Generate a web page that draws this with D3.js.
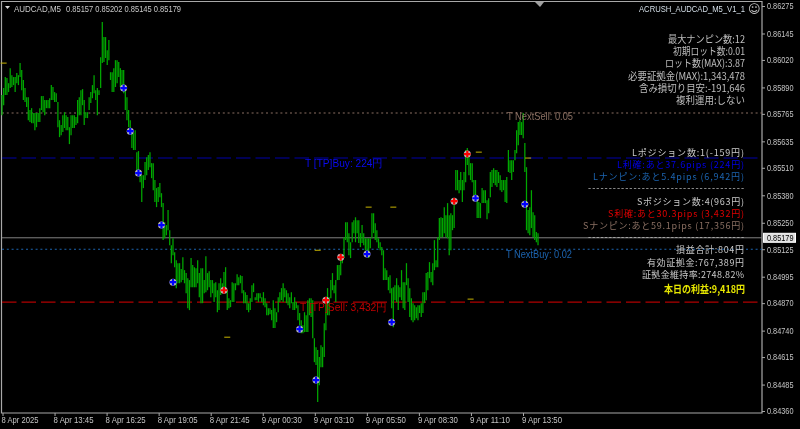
<!DOCTYPE html>
<html><head><meta charset="utf-8">
<script src="https://cdn.jsdelivr.net/npm/d3@7"></script>
<style>html,body{margin:0;padding:0;background:#000;overflow:hidden}svg{display:block;filter:blur(.25px)}</style>
</head><body><svg id="c" width="800" height="429"></svg>
<script>
// ---- data: price in points (0.00001)
const barRanges=[
[85854,85759],[85887,85806],[85939,85854],[85934,85854],[85910,85868],[85981,85887],[85948,85892],[85939,85901],[85939,85868],[85958,85910],[85948,85901],[86005,85939],[85972,85877],[85925,85830],[85887,85821],[85844,85797],[85844,85735],[85783,85726],[85792,85721],[85769,85721],[85769,85688],[85769,85702],[85769,85726],[85792,85726],[85849,85783],[85849,85773],[85830,85759],[85830,85792],[85830,85792],[85839,85792],[85901,85830],[85892,85830],[85868,85821],[85863,85821],[85821,85702],[85735,85655],[85712,85664],[85759,85679],[85773,85698],[85759,85688],[85750,85688],[85702,85622],[85759,85664],[85759,85698],[85759,85698],[85750,85712],[85830,85721],[85844,85759],[85877,85759],[85882,85806],[85830,85712],[85773,85745],[85773,85745],[85844,85783],[85868,85816],[85901,85839],[85948,85863],[85877,85830],[85887,85759],[85877,85854],[86033,85887],[86199,86005],[86128,86010],[86128,86029],[86066,85996],[86114,86019],[85962,85925],[85962,85868],[85981,85868],[86019,85892],[86019,85910],[86010,85939],[85981,85892],[85972,85877],[85972,85863],[85877,85783],[85844,85735],[85783,85702],[85735,85674],[85679,85603],[85674,85594],[85688,85594],
[85584,85499],[85589,85499],[85499,85442],[85475,85348],[85475,85414],[85537,85452],[85560,85475],[85570,85499],[85584,85513],[85532,85461],[85532,85404],[85452,85348],[85414,85324],[85419,85348],[85438,85371],[85390,85324],[85343,85168],[85253,85177],[85239,85191],[85310,85215],[85215,85144],[85144,85059],[85177,85097],[85111,85040],[85073,84941],[85059,84964],[85059,84964],[85031,84969],[85087,84979],[85026,84964],[85012,84917],[84988,84846],[84979,84837],[85083,84945],[85050,84945],[85040,84945],[85035,84945],[85073,84964],[85012,84898],[85035,84870],[85035,84870],[84979,84917],[85092,84922],[85012,84931],[85021,84945],[84979,84898],[84979,84917],[84964,84875],[84969,84898],[84931,84827],[84964,84837],[84988,84908],[84964,84917],[85017,84922],[85040,84931],[84931,84837],[84893,84846],[84884,84851],[84969,84875],[84964,84875],[84964,84931],[85007,84955],[84993,84955],[85002,84964],[84998,84917],[84931,84870],[84922,84870],[84908,84837],[84870,84827],[84893,84837],[84955,84875],[84964,84922],[84898,84884],[84917,84884],[84917,84875],[84917,84893],[84898,84875],[84922,84860],[84893,84851],[84870,84813],[84846,84813],[84846,84818],
[84837,84789],[84884,84752],[84846,84752],[84827,84780],[84898,84827],[84922,84875],[84941,84884],[84964,84875],[84941,84898],[84931,84870],[84917,84860],[84898,84846],[84922,84870],[84875,84837],[84898,84837],[84875,84846],[84860,84789],[84823,84766],[84789,84728],[84766,84728],[84827,84733],[84813,84733],[84884,84733],[84893,84813],[84893,84804],[84884,84704],[84704,84591],[84662,84577],[84648,84402],[84615,84482],[84671,84567],[84662,84567],[84775,84615],[84884,84742],[84941,84813],[84898,84813],[84979,84893],[85012,84931],[84955,84917],[84979,84875],[85050,84979],[85050,84979],[85087,85002],[85097,85059],[85182,85083],[85253,85168],[85253,85158],[85201,85097],[85158,85083],[85253,85158],[85262,85201],[85276,85158],[85262,85201],[85262,85154],[85201,85135],[85239,85154],[85201,85144],[85177,85120],[85177,85111],[85177,85083],[85177,85130],[85295,85177],[85295,85201],[85248,85168],[85215,85158],[85177,85130],[85158,85120],[85135,85097],[85120,84979],[85035,84979],[85026,84979],[84993,84931],[85002,84917],[84941,84846],[84945,84756],[84955,84884],[84988,84875],[84955,84837],[84945,84898],
[85026,84884],[84969,84846],[84969,84837],[85059,84955],[84988,84875],[84941,84804],[84893,84789],[84870,84780],[84860,84789],[84851,84799],[84860,84789],[84860,84823],[84870,84804],[84922,84823],[84922,84870],[85012,84884],[85017,84931],[85064,84988],[85017,84969],[85059,84955],[85168,85026],[85073,85040],[85182,85040],[85272,85168],[85276,85182],[85272,85182],[85324,85201],[85286,85182],[85343,85177],[85286,85097],[85295,85120],[85286,85215],[85343,85225],[85499,85404],[85499,85404],[85452,85390],[85490,85404],[85452,85348],[85490,85404],[85594,85442],[85603,85523],[85570,85475],[85532,85452],[85532,85442],[85452,85381],[85452,85381],[85357,85272],[85348,85272],[85343,85272],[85414,85343],[85404,85343],[85404,85343],[85357,85267],[85366,85295],[85490,85371],[85499,85419],[85508,85438],[85499,85428],[85499,85419],[85490,85438],[85475,85404],[85452,85395],[85452,85404],[85452,85348],[85466,85343],[85594,85490],[85546,85485],[85546,85452],[85546,85490],[85594,85546],[85688,85579],[85726,85617],[85735,85665],[85726,85665],[85769,85650],[85627,85490],[85513,85215],[85310,85201],[85324,85191],[85404,85225],[85300,85182],[85286,85168],[85206,85158],[85201,85144]];
const priceTicks=[86275,86145,86020,85890,85765,85635,85510,85380,85250,85125,84995,84870,84740,84615,84485,84360];
const timeLabels=["8 Apr 2025","8 Apr 13:45","8 Apr 16:25","8 Apr 19:05","8 Apr 21:45","9 Apr 00:30","9 Apr 03:10","9 Apr 05:50","9 Apr 08:30","9 Apr 11:10","9 Apr 13:50"];
const buyMarks=[[74,85887],[78,85683],[83,85485],[97,85239],[104,84969],[181,84747],[191,84506],[222,85102],[237,84780],[288,85366],[318,85338]];
const sellMarks=[[135,84931],[206,85087],[197,84884],[275,85352],[283,85575]];
const orderDashes=[[1,86005],[223,85324],[238,85324],[290,85584],[320,85556],[137,84709],[192,85120],[285,84889]];
const currentPrice=85179;
const levelPrices={nextSell:85769,tpBuy:85556,nextBuy:85125,tpSell:84875};
const chartTitle="AUDCAD,M5";
const ohlcText="0.85157 0.85202 0.85145 0.85179";
const eaName="ACRUSH_AUDCAD_M5_V1_1";
const levelTexts=["T NextSell: 0.05","T [TP]Buy: 224円","T NextBuy: 0.02","T [TP]Sell: 3,432円"];
const settingsLines=["最大ナンピン数:12","初期ロット数:0.01","ロット数(MAX):3.87","必要証拠金(MAX):1,343,478","含み損切り目安:-191,646","複利運用:しない"];
const positionLines=["Lポジション数:1(-159円)","L利確:あと37.6pips (224円)","Lナンピン:あと5.4pips (6,942円)","--------------------------------------","Sポジション数:4(963円)","S利確:あと30.3pips (3,432円)","Sナンピン:あと59.1pips (17,356円)","--------------------------------------","損益合計:804円","有効証拠金:767,389円","証拠金維持率:2748.82%"];
const profitLine="本日の利益:9,418円";

// ---- layout
const L=2,R=762,T=1.5,B=413;
const svg=d3.select("#c");
const y=d3.scaleLinear().domain([84360,86275]).range([411,6]);
const x=d3.scalePoint().domain(d3.range(barRanges.length)).range([2,538]);
const xt=d3.scalePoint().domain(timeLabels).range([2.5,523]);
const sans="'Liberation Sans',Arial,sans-serif", cjk="'Noto Sans CJK JP',sans-serif";

// frame
svg.append("path").attr("d",`M${L-.5},${T}H${R}V${B}H${L-.5}Z`).attr("fill","none").attr("stroke","#a8a8a8").attr("stroke-width",1.2);
svg.append("path").attr("d","M535,2H544L540,7Z").attr("fill","#a0a0a0");

// level lines
function level(p,col,dash,w){svg.append("line").attr("x1",L).attr("x2",R).attr("y1",y(p)).attr("y2",y(p)).attr("stroke",col).attr("stroke-width",w||1.1).attr("stroke-dasharray",dash);}
level(levelPrices.nextSell,"#8a6f62","2 2.8");
level(levelPrices.tpBuy,"#0000a8","14.5 5");
level(currentPrice,"#808080",null,1);
level(levelPrices.nextBuy,"#1c64b0","2 2.8");
level(levelPrices.tpSell,"#b00000","14.5 5");

// bars
svg.append("g").selectAll("line").data(barRanges).join("line")
 .attr("x1",(d,i)=>x(i)).attr("x2",(d,i)=>x(i))
 .attr("y1",d=>y(d[0])).attr("y2",d=>y(d[1]))
 .attr("stroke","#00a800").attr("stroke-width",1.25);

// order dashes
svg.append("g").selectAll("line").data(orderDashes).join("line")
 .attr("x1",d=>x(d[0])-3).attr("x2",d=>x(d[0])+3)
 .attr("y1",d=>y(d[1])).attr("y2",d=>y(d[1]))
 .attr("stroke","#c8b400").attr("stroke-width",1);

// markers
function marks(data,col){
 const g=svg.append("g").selectAll("g").data(data).join("g").attr("transform",d=>`translate(${x(d[0])},${y(d[1])})`);
 g.append("circle").attr("r",3.5).attr("fill","#b8b8b8");
 g.append("path").attr("d",d3.symbol(d3.symbolCross,24)).attr("fill",col);
}
marks(buyMarks,"#0000ff");
marks(sellMarks,"#ff0000");

// axes
const ay=d3.axisRight(y).tickValues(priceTicks).tickSize(3).tickPadding(2).tickFormat(d=>(d/100000).toFixed(5));
const gy=svg.append("g").attr("transform",`translate(${R},0)`).call(ay);
const ax=d3.axisBottom(xt).tickSize(3).tickPadding(1);
const gx=svg.append("g").attr("transform",`translate(0,${B})`).call(ax);
[gy,gx].forEach(g=>{g.select(".domain").remove();g.selectAll("line").attr("stroke","#a8a8a8");
 g.selectAll("text").attr("fill","#c4c4c4").style("font-family",sans).style("font-size","8.8px");});
gy.selectAll("text").attr("textLength",26.5).attr("lengthAdjust","spacingAndGlyphs");
gx.selectAll("text").attr("text-anchor","start").attr("dx",-1.5).attr("textLength",(d,i)=>i?40:37).attr("lengthAdjust","spacingAndGlyphs");

// current price box
svg.append("rect").attr("x",763.5).attr("y",y(currentPrice)-4.5).attr("width",32).attr("height",9).attr("fill","#e0e0e0").attr("stroke","#ffffff");
svg.append("text").attr("x",767).attr("y",y(currentPrice)+3).attr("fill","#000").style("font-family",sans).style("font-size","8.8px").attr("textLength",26.5).attr("lengthAdjust","spacingAndGlyphs").text((currentPrice/100000).toFixed(5));

// header
svg.append("path").attr("d","M5,6H10L7.5,9Z").attr("fill","#d8d8d8");
function txt(s,xp,yp,col,size,fam,len,adj,weight){
 const t=svg.append("text").attr("x",xp).attr("y",yp).attr("fill",col).style("font-family",fam).style("font-size",size+"px").text(s);
 if(len)t.attr("textLength",len).attr("lengthAdjust",adj||"spacingAndGlyphs");
 if(weight)t.style("font-weight",weight);
 return t;
}
txt(chartTitle,14,11.5,"#c8c8c8",9.4,sans,47);
txt(ohlcText,66,11.5,"#c8c8c8",9.4,sans,115);
txt(eaName,639,12,"#d4dfe8",9.2,sans,106);
txt("☺",748,13,"#c8c8c8",12,"'DejaVu Sans'");

// labels on levels
txt(levelTexts[0],507,120,"#8a6f62",10.6,sans,66);
txt(levelTexts[1],305,167,"#0a0af0",10.6,sans,78);
txt(levelTexts[2],506,258,"#1c64b0",10.6,sans,66);
txt(levelTexts[3],300,311,"#c00000",10.6,sans,87);

// info panels
const setX=[668,673,665,628,639,676], setY=[43,55,67,80,92,104];
settingsLines.forEach((s,i)=>txt(s,setX[i],setY[i],"#bdbdbd",10.4,cjk,745-setX[i]));
const posX=[632,617,593,588,637,608,583,588,676,647,642];
const posY=[155.5,167.5,179.5,191,204.5,216.5,228.5,240,252.5,265.5,277.5];
const posC=["#c8c8c8","#0000e8","#1c64b0","#c8c8c8","#c8c8c8","#e00000","#8a6f62","#c8c8c8","#c8c8c8","#c8c8c8","#c8c8c8"];
positionLines.forEach((s,i)=>txt(s,posX[i],posY[i],posC[i],9,cjk,744-posX[i],"spacing"));
txt(profitLine,664,293,"#e6e600",10.5,cjk,81,null,"700");
</script></body></html>
